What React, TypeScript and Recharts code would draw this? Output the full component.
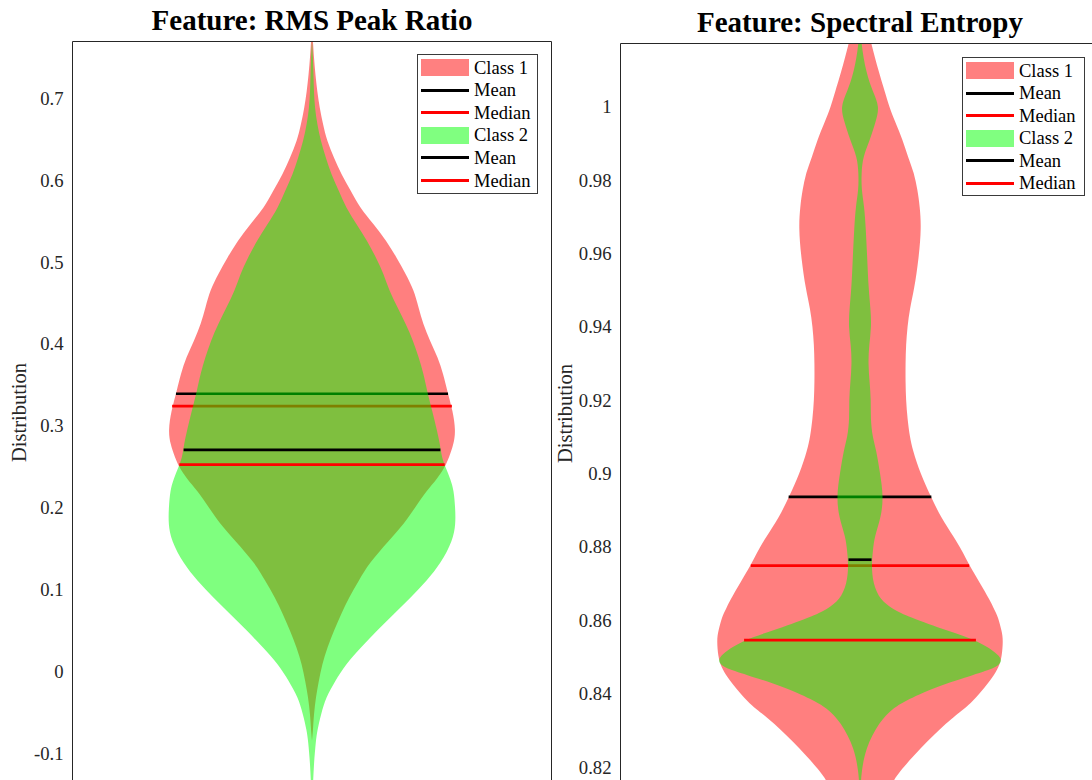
import React from 'react';
import { ComposedChart, Area, XAxis, YAxis, ReferenceLine, ReferenceArea, Legend } from 'recharts';

// ---------- Panel 1: RMS Peak Ratio ----------
const rmsY = [0.78, 0.77, 0.75, 0.729, 0.708, 0.688, 0.668, 0.648, 0.627, 0.607, 0.587, 0.566, 0.546, 0.526, 0.505, 0.485, 0.465, 0.445, 0.424, 0.404, 0.383, 0.363, 0.343, 0.318, 0.294, 0.278, 0.261, 0.249, 0.235, 0.221, 0.2, 0.18, 0.16, 0.132, 0.111, 0.09, 0.07, 0.05, 0.029, 0.0085, -0.012, -0.032, -0.052, -0.072, -0.085, -0.112, -0.14, -0.16];
const rmsClass1Width = [0, 0.002, 0.004, 0.007, 0.011, 0.016, 0.023, 0.031, 0.046, 0.061, 0.081, 0.1, 0.129, 0.155, 0.177, 0.196, 0.213, 0.222, 0.232, 0.246, 0.263, 0.274, 0.282, 0.294, 0.3, 0.296, 0.286, 0.277, 0.261, 0.24, 0.215, 0.192, 0.161, 0.119, 0.098, 0.077, 0.061, 0.046, 0.032, 0.021, 0.014, 0.008, 0.004, 0.002, 0, null, null, null];
const rmsClass2Width = [null, 0, 0.002, 0.003, 0.004, 0.006, 0.011, 0.018, 0.029, 0.04, 0.056, 0.071, 0.093, 0.115, 0.134, 0.15, 0.161, 0.178, 0.196, 0.211, 0.223, 0.233, 0.24, 0.251, 0.261, 0.267, 0.271, 0.279, 0.289, 0.296, 0.299, 0.3, 0.294, 0.269, 0.24, 0.206, 0.171, 0.136, 0.102, 0.07, 0.048, 0.029, 0.019, 0.011, 0.008, 0.004, 0.002, 0];
const rmsTicks = [-0.1, 0, 0.1, 0.2, 0.3, 0.4, 0.5, 0.6, 0.7];
const rmsMeanY = [0.339, 0.2704];
const rmsMeanWidth = [0.284, 0.268];
const rmsMedianY = [0.324, 0.2524];
const rmsMedianWidth = [0.292, 0.277];

// ---------- Panel 2: Spectral Entropy ----------
const entY = [1.035, 1.025, 1.0173, 1.0091, 1.004, 1.0, 0.996, 0.991, 0.9863, 0.982, 0.9773, 0.9727, 0.967, 0.959, 0.95, 0.945, 0.94, 0.935, 0.93, 0.925, 0.92, 0.915, 0.91, 0.9064, 0.9, 0.8937, 0.888, 0.8827, 0.879, 0.875, 0.87, 0.8655, 0.863, 0.861, 0.857, 0.8546, 0.85, 0.8478, 0.8465, 0.8455, 0.8417, 0.8378, 0.836, 0.8323, 0.825, 0.8182, 0.8159, 0.81, 0.805, 0.8, 0.795];
const entClass1Width = [0, 0.01, 0.023, 0.04, 0.052, 0.061, 0.073, 0.089, 0.1, 0.113, 0.12, 0.125, 0.128, 0.123, 0.113, 0.104, 0.099, 0.096, 0.095, 0.095, 0.096, 0.099, 0.104, 0.11, 0.126, 0.148, 0.169, 0.196, 0.213, 0.228, 0.251, 0.271, 0.28, 0.288, 0.296, 0.299, 0.296, 0.291, 0.286, 0.282, 0.261, 0.234, 0.219, 0.182, 0.125, 0.079, 0.069, 0.042, 0.025, 0.013, 0];
const entClass2Width = [null, 0, 0.002, 0.013, 0.027, 0.041, 0.033, 0.021, 0.006, 0.003, 0.003, 0.009, 0.012, 0.015, 0.018, 0.022, 0.024, 0.019, 0.017, 0.02, 0.023, 0.022, 0.026, 0.034, 0.042, 0.049, 0.044, 0.03, 0.027, 0.024, 0.027, 0.042, 0.069, 0.1, 0.185, 0.245, 0.299, 0.292, 0.271, 0.246, 0.154, 0.091, 0.069, 0.04, 0.011, 0.003, 0.002, 0, null, null, null];
const entTicks = [0.82, 0.84, 0.86, 0.88, 0.9, 0.92, 0.94, 0.96, 0.98, 1];
const entMeanY = [0.8936, 0.8765];
const entMeanWidth = [0.149, 0.024];
const entMedianY = [0.8749, 0.8546];
const entMedianWidth = [0.228, 0.242];

// ---------- Shared text ----------
const titles = ['Feature: RMS Peak Ratio', 'Feature: Spectral Entropy'];
const yLabelText = 'Distribution';
const legendLabels = ['Class 1', 'Mean', 'Median', 'Class 2', 'Mean', 'Median'];
const legendKinds = ['patch', 'line', 'line', 'patch', 'line', 'line'];
const legendColors = ['#ff8080', '#000000', '#ff0000', '#80ff80', '#000000', '#ff0000'];

const FONT = "'Liberation Serif', 'Times New Roman', Times, serif";
const AXIS = '#262626';
const CENTER = 1;
const RED = '#ff0000';
const GREEN = '#00ff00';

function buildRows(ys: number[], c1: (number | null)[], c2: (number | null)[]) {
  return ys.map((y, i) => ({
    y,
    class1: c1[i] == null ? null : [CENTER - (c1[i] as number), CENTER + (c1[i] as number)],
    class2: c2[i] == null ? null : [CENTER - (c2[i] as number), CENTER + (c2[i] as number)],
  }));
}

function LegendBox({ w, h, rowTop, rowStep }: { w: number; h: number; rowTop: number; rowStep: number }) {
  return (
    <div
      style={{
        width: w,
        height: h,
        boxSizing: 'border-box',
        border: '1px solid #3a3a3a',
        background: '#fff',
        position: 'relative',
        fontFamily: FONT,
        fontSize: 18.5,
        color: '#000',
      }}
    >
      {legendLabels.map((label, i) => (
        <div
          key={i}
          style={{
            position: 'absolute',
            left: 3,
            top: rowTop + i * rowStep - 11,
            height: 22,
            display: 'flex',
            alignItems: 'center',
            whiteSpace: 'nowrap',
          }}
        >
          <div style={{ width: 48, height: legendKinds[i] === 'patch' ? 17 : 3, background: legendColors[i] }} />
          <span style={{ marginLeft: 5, lineHeight: '22px' }}>{label}</span>
        </div>
      ))}
    </div>
  );
}

type PanelProps = {
  left: number;
  width: number;
  height: number;
  marginTop: number;
  marginRight: number;
  yAxisWidth: number;
  domain: [number, number];
  ticks: number[];
  rows: any[];
  meanY: number[];
  meanW: number[];
  medianY: number[];
  medianW: number[];
  title: string;
  titleTop: number;
  legendLeft: number;
  legendTop: number;
  legendW: number;
  legendH: number;
  legendRowTop: number;
  legendRowStep: number;
  labelCy: number;
};

function Panel(p: PanelProps) {
  const plotLeft = 8 + p.yAxisWidth;
  const plotWidth = p.width - plotLeft - p.marginRight;
  const seg = (y: number, w: number) => [
    { x: CENTER - w, y },
    { x: CENTER + w, y },
  ];
  const renderYLabel = (props: any) => {
    const vb = props.viewBox || { x: 8 };
    const cx = vb.x + 18;
    const cy = p.labelCy;
    return (
      <text
        x={cx}
        y={cy}
        transform={`rotate(-90 ${cx} ${cy})`}
        textAnchor="middle"
        fontFamily={FONT}
        style={{ fontFamily: FONT }}
        fontSize={20.5}
        fill={AXIS}
      >
        {yLabelText}
      </text>
    );
  };
  const extra: any = {};
  return (
    <div style={{ position: 'absolute', left: p.left, top: 0, width: p.width, height: p.height, fontFamily: FONT }}>
      <div
        style={{
          position: 'absolute',
          left: plotLeft,
          width: plotWidth,
          top: p.titleTop,
          textAlign: 'center',
          fontFamily: FONT,
          fontWeight: 'bold',
          fontSize: 29,
          lineHeight: '32px',
          color: '#000',
          whiteSpace: 'nowrap',
          zIndex: 2,
        }}
      >
        {p.title}
      </div>
      <ComposedChart
        layout="vertical"
        width={p.width}
        height={p.height}
        data={p.rows}
        margin={{ top: p.marginTop, right: p.marginRight, bottom: 0, left: 8 }}
        style={{ fontFamily: FONT }}
      >
        <XAxis type="number" domain={[0.5, 1.5]} hide allowDataOverflow />
        <YAxis
          type="number"
          dataKey="y"
          domain={p.domain}
          ticks={p.ticks}
          allowDataOverflow
          reversed
          interval={0}
          width={p.yAxisWidth}
          axisLine={false}
          tickLine={false}
          tickSize={0}
          tickMargin={9}
          tick={{ fill: AXIS, fontSize: 18.7, fontFamily: FONT }}
          label={{ content: renderYLabel }}
        />
        <Area
          dataKey="class1"
          type="basis"
          fill={RED}
          fillOpacity={0.5}
          stroke="none"
          isAnimationActive={false}
          activeDot={false}
          dot={false}
          {...extra}
          zIndex={100}
        />
        <ReferenceLine segment={seg(p.meanY[0], p.meanW[0])} stroke="#000000" strokeWidth={2.7} ifOverflow="visible" zIndex={110} />
        <ReferenceLine segment={seg(p.medianY[0], p.medianW[0])} stroke={RED} strokeWidth={2.7} ifOverflow="visible" zIndex={110} />
        <Area
          dataKey="class2"
          type="basis"
          fill={GREEN}
          fillOpacity={0.5}
          stroke="none"
          isAnimationActive={false}
          activeDot={false}
          dot={false}
          zIndex={120}
        />
        <ReferenceLine segment={seg(p.meanY[1], p.meanW[1])} stroke="#000000" strokeWidth={2.7} ifOverflow="visible" zIndex={130} />
        <ReferenceLine segment={seg(p.medianY[1], p.medianW[1])} stroke={RED} strokeWidth={2.7} ifOverflow="visible" zIndex={130} />
        <ReferenceArea
          x1={0.5}
          x2={1.5}
          y1={p.domain[0]}
          y2={p.domain[1]}
          fill="none"
          fillOpacity={0}
          stroke={AXIS}
          strokeWidth={1}
          ifOverflow="visible"
          zIndex={140}
        />
        <Legend
          layout="horizontal"
          verticalAlign="middle"
          align="center"
          wrapperStyle={{ left: p.legendLeft, top: p.legendTop, width: p.legendW, height: p.legendH, right: 'auto', bottom: 'auto' }}
          content={() => <LegendBox w={p.legendW} h={p.legendH} rowTop={p.legendRowTop} rowStep={p.legendRowStep} />}
        />
      </ComposedChart>
    </div>
  );
}

export default function App() {
  const rmsRows = buildRows(rmsY, rmsClass1Width, rmsClass2Width);
  const entRows = buildRows(entY, entClass1Width, entClass2Width);
  return (
    <div
      style={{
        position: 'fixed',
        left: 0,
        top: 0,
        width: 1092,
        height: 780,
        overflow: 'hidden',
        background: '#ffffff',
      }}
    >
      <Panel
        left={0}
        width={560}
        height={804}
        marginTop={41.5}
        marginRight={8.5}
        yAxisWidth={64.5}
        domain={[-0.1619, 0.7691]}
        ticks={rmsTicks}
        rows={rmsRows}
        meanY={rmsMeanY}
        meanW={rmsMeanWidth}
        medianY={rmsMedianY}
        medianW={rmsMedianWidth}
        title={titles[0]}
        titleTop={4.2}
        legendLeft={417}
        legendTop={54}
        legendW={121}
        legendH={140}
        legendRowTop={12.5}
        legendRowStep={22.6}
        labelCy={412.5}
      />
      <Panel
        left={546}
        width={560}
        height={818}
        marginTop={43.5}
        marginRight={6.5}
        yAxisWidth={66.5}
        domain={[0.80609, 1.01721]}
        ticks={entTicks}
        rows={entRows}
        meanY={entMeanY}
        meanW={entMeanWidth}
        medianY={entMedianY}
        medianW={entMedianWidth}
        title={titles[1]}
        titleTop={6.2}
        legendLeft={416}
        legendTop={57}
        legendW={123}
        legendH={139}
        legendRowTop={12.7}
        legendRowStep={22.46}
        labelCy={413.5}
      />
    </div>
  );
}
